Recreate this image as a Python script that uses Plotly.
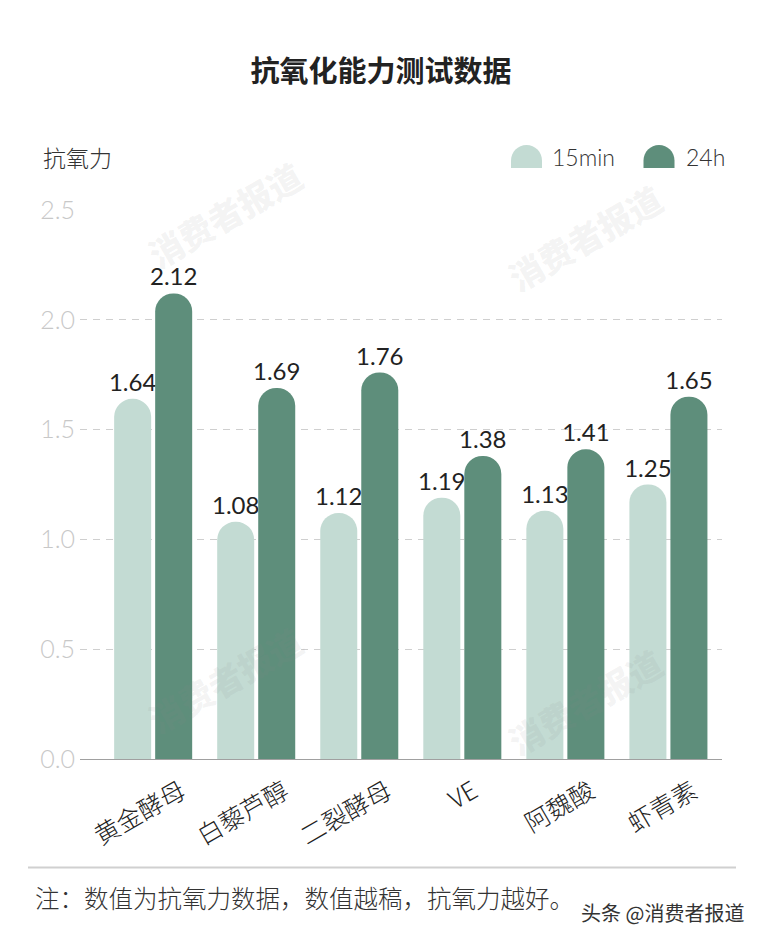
import plotly.graph_objects as go

# ---- data ----
categories = ["黄金酵母", "白藜芦醇", "二裂酵母", "VE", "阿魏酸", "虾青素"]
series_names = ["15min", "24h"]
values_15min = [1.64, 1.08, 1.12, 1.19, 1.13, 1.25]
values_24h = [2.12, 1.69, 1.76, 1.38, 1.41, 1.65]
y_ticks = [0.0, 0.5, 1.0, 1.5, 2.0, 2.5]

title_text = "抗氧化能力测试数据"
y_title = "抗氧力"
note_text = "注：数值为抗氧力数据，数值越稿，抗氧力越好。"
source_text = "头条 @消费者报道"
watermark = "消费者报道"

# ---- style ----
W, H = 762, 940
L, R, T, B = 80, 40, 210, 180.5
PW, PH = W - L - R, H - T - B
LIGHT = "#c3dbd3"
DARK = "#5e8e7b"
CJK = "Noto Sans CJK SC"
NUM = "Lato, Noto Sans CJK SC"


def px_x(px):
    return (px - L) / PW


def px_y(py):
    return (H - B - py) / PH


fig = go.Figure()
for name, vals, col in [(series_names[0], values_15min, LIGHT),
                        (series_names[1], values_24h, DARK)]:
    fig.add_trace(go.Bar(
        x=categories, y=vals, name=name,
        marker=dict(color=col, cornerradius="50%", line=dict(width=0)),
        text=[f"{v:.2f}" for v in vals],
        textposition="outside",
        constraintext="none",
        textfont=dict(family=NUM, size=24, color="#222222"),
        cliponaxis=False,
        showlegend=False,
        hoverinfo="skip",
    ))

annotations = []
# rotated category labels
for i, c in enumerate(categories):
    annotations.append(dict(
        x=c, xref="x", y=0, yref="paper", yanchor="top", xanchor="center",
        yshift=-9, xshift=-7 * (len(c) - 2),
        text=c, textangle=-30, showarrow=False,
        font=dict(family=CJK, size=25, color="#222222", weight=300),
    ))

# y-axis title
annotations.append(dict(
    x=px_x(41), y=px_y(157), xref="paper", yref="paper",
    xanchor="left", yanchor="middle", text=y_title, showarrow=False,
    font=dict(family=CJK, size=23, color="#333333", weight=300),
))

# legend
legend_items = [(series_names[0], LIGHT, 526.5, 550), (series_names[1], DARK, 659, 684)]
shapes = []
r = 15.5
k = r * 0.5523
icon_path = (f"M {-r},0 L {-r},7.5 C {-r},{7.5 + k} {-k},{7.5 + r} 0,{7.5 + r} "
             f"C {k},{7.5 + r} {r},{7.5 + k} {r},7.5 L {r},0 Z")
for name, col, icx, tx in legend_items:
    shapes.append(dict(
        type="path", xsizemode="pixel", ysizemode="pixel",
        xref="paper", yref="paper", xanchor=px_x(icx), yanchor=px_y(168),
        path=icon_path, fillcolor=col, line=dict(width=0),
    ))
    annotations.append(dict(
        x=px_x(tx), y=px_y(157), xref="paper", yref="paper",
        xanchor="left", yanchor="middle", text=name, showarrow=False,
        font=dict(family=NUM, size=23, color="#333333", weight=300),
    ))

# footer line
shapes.append(dict(
    type="line", xref="paper", yref="paper",
    x0=px_x(28), x1=px_x(736), y0=px_y(868), y1=px_y(868),
    line=dict(color="#d0d0d0", width=2),
))
annotations.append(dict(
    x=px_x(33), y=px_y(898), xref="paper", yref="paper",
    xanchor="left", yanchor="middle", text=note_text, showarrow=False,
    font=dict(family=CJK, size=24.5, color="#333333", weight=300),
))
annotations.append(dict(
    x=px_x(746), y=px_y(913), xref="paper", yref="paper",
    xanchor="right", yanchor="middle", text=source_text, showarrow=False,
    font=dict(family=CJK, size=20, color="#333333"),
))

# watermarks
for wx, wy in [(225, 215), (585, 238), (225, 680), (585, 702)]:
    annotations.append(dict(
        x=px_x(wx), y=px_y(wy), xref="paper", yref="paper",
        xanchor="center", yanchor="middle", text=watermark, showarrow=False,
        textangle=-30,
        font=dict(family=CJK, size=34, color="rgba(140,140,140,0.10)", weight=900),
    ))

fig.update_layout(
    width=W, height=H,
    margin=dict(l=L, r=R, t=T, b=B, autoexpand=False),
    paper_bgcolor="white", plot_bgcolor="white",
    barmode="group", bargap=0.204, bargroupgap=0.0976,
    title=dict(text=title_text, x=0.5, xref="container", xanchor="center",
               y=1 - 72 / H, yanchor="middle",
               font=dict(family=CJK, size=29, color="#222222", weight="bold")),
    xaxis=dict(type="category", range=[-0.71, 5.52], showticklabels=False,
               ticks="", showline=True, linecolor="#a0a0a0", linewidth=1.2,
               showgrid=False, zeroline=False, fixedrange=True),
    yaxis=dict(range=[0, 2.5], tickvals=y_ticks, tickformat=".1f",
               tickfont=dict(family=NUM, size=25, color="#c8c8c8", weight=300),
               showgrid=True, gridcolor="#cfcfcf", gridwidth=1, griddash="7px,6px",
               zeroline=False, showline=False, ticks="", ticklabelstandoff=4,
               fixedrange=True),
    shapes=shapes,
    annotations=annotations,
    font=dict(family=CJK),
)

fig.write_html("out.html", config={"displayModeBar": False},
               post_script="document.body.style.margin='0';document.body.style.padding='0';")
